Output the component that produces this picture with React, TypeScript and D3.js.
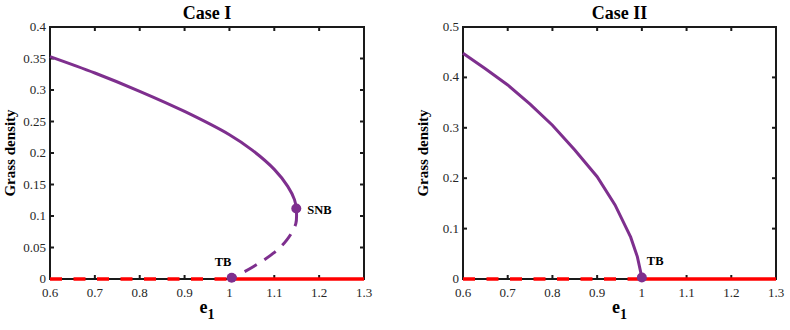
import React from 'react';
import * as d3 from 'd3';

// Case I: upper (stable) branch and lower (unstable, dashed) branch
const caseIUpperE = [0.6, 0.7, 0.8, 0.9, 1.0, 1.05, 1.1, 1.13, 1.145, 1.149];
const caseIUpperG = [0.353, 0.327, 0.298, 0.266, 0.229, 0.205, 0.174, 0.147, 0.126, 0.112];
const caseILowerE = [1.149, 1.148, 1.128, 1.098, 1.053, 1.005];
const caseILowerG = [0.112, 0.088, 0.062, 0.041, 0.0195, 0.001];
const caseIBif = [
  { label: 'SNB', e: 1.149, g: 0.112 },
  { label: 'TB', e: 1.005, g: 0.002 },
];

// Case II: single branch ending at the transcritical point
const caseIIE = [0.6, 0.65, 0.7, 0.75, 0.8, 0.85, 0.9, 0.94, 0.975, 0.99, 1.0];
const caseIIG = [0.448, 0.417, 0.385, 0.347, 0.305, 0.256, 0.203, 0.147, 0.083, 0.044, 0.003];
const caseIIBif = [{ label: 'TB', e: 1.0, g: 0.003 }];

const xTicks = [0.6, 0.7, 0.8, 0.9, 1, 1.1, 1.2, 1.3];
const yTicksI = [0, 0.05, 0.1, 0.15, 0.2, 0.25, 0.3, 0.35, 0.4];
const yTicksII = [0, 0.1, 0.2, 0.3, 0.4, 0.5];

const purple = '#7E2F8E';
const red = '#FF0000';
const axisColor = '#1a1a1a';
const font = "'Liberation Serif', 'Times New Roman', serif";

type Pt = [number, number];
type Bif = { label: string; e: number; g: number };

const zip = (a: number[], b: number[]): Pt[] => a.map((v, i) => [v, b[i]]);

const Panel = ({
  left, right, title, yMax, yTicks, solid, dashed, tbE, bifs, labelPos, smoothCurve,
}: {
  left: number; right: number; title: string; yMax: number; yTicks: number[];
  solid: Pt[]; dashed: Pt[] | null; tbE: number;
  bifs: Bif[]; labelPos: Record<string, [number, number]>; smoothCurve: boolean;
}) => {
  const top = 27;
  const bottom = 279;
  const x = d3.scaleLinear().domain([0.6, 1.3]).range([left, right]);
  const y = d3.scaleLinear().domain([0, yMax]).range([bottom, top]);
  const line = d3.line<Pt>().x((d) => x(d[0])).y((d) => y(d[1]));
  const smooth = d3.line<Pt>().x((d) => x(d[0])).y((d) => y(d[1])).curve(d3.curveCatmullRom.alpha(0.5));
  const branch = smoothCurve ? smooth : line;
  const tick = 4;
  const fmt = d3.format('~g');

  return (
    <g style={{ fontFamily: font }}>
      <text x={(left + right) / 2} y={19} textAnchor="middle" fontSize={18} fontWeight="bold" fill="#000" style={{ fontFamily: font }}>
        {title}
      </text>
      {/* box */}
      <rect x={left} y={top} width={right - left} height={bottom - top} fill="none" stroke={axisColor} strokeWidth={2} />
      {xTicks.map((t) => (
        <g key={'x' + t}>
          <line x1={x(t)} x2={x(t)} y1={bottom} y2={bottom - tick} stroke={axisColor} strokeWidth={2} />
          <line x1={x(t)} x2={x(t)} y1={top} y2={top + tick} stroke={axisColor} strokeWidth={2} />
          <text x={x(t)} y={bottom + 18} textAnchor="middle" fontSize={13} fill="#262626" style={{ fontFamily: font }}>
            {fmt(t)}
          </text>
        </g>
      ))}
      {yTicks.map((t) => (
        <g key={'y' + t}>
          <line x1={left} x2={left + tick} y1={y(t)} y2={y(t)} stroke={axisColor} strokeWidth={2} />
          <line x1={right} x2={right - tick} y1={y(t)} y2={y(t)} stroke={axisColor} strokeWidth={2} />
          <text x={left - 4} y={y(t) + 4} textAnchor="end" fontSize={13} fill="#262626" style={{ fontFamily: font }}>
            {fmt(t)}
          </text>
        </g>
      ))}
      <text
        transform={`translate(${left - 35},${(top + bottom) / 2}) rotate(-90)`}
        textAnchor="middle" fontSize={15} fontWeight="bold" fill="#000" style={{ fontFamily: font }}
      >
        Grass density
      </text>
      <text x={(left + right) / 2} y={313} textAnchor="middle" fontSize={18} fontWeight="bold" fill="#000" style={{ fontFamily: font }}>
        e<tspan fontSize={14} dy={6}>1</tspan>
      </text>

      {/* grass-free equilibrium: unstable (dashed) then stable (solid) */}
      <path d={line([[0.6, 0], [tbE, 0]])!} stroke={red} strokeWidth={3.5} strokeDasharray="12,11.5" fill="none" />
      <path d={line([[tbE, 0], [1.3, 0]])!} stroke={red} strokeWidth={3.5} fill="none" />

      <path d={branch(solid)!} stroke={purple} strokeWidth={3} fill="none" />
      {dashed && (
        <path d={smooth(dashed)!} stroke={purple} strokeWidth={3} strokeDasharray="14,9" strokeDashoffset={-4} fill="none" />
      )}
      {bifs.map((b) => (
        <g key={b.label}>
          <circle cx={x(b.e)} cy={y(b.g)} r={5} fill={purple} />
          <text
            x={x(b.e) + labelPos[b.label][0]} y={y(b.g) + labelPos[b.label][1]}
            fontSize={12.5} fontWeight="bold" fill="#000" style={{ fontFamily: font }}
          >
            {b.label}
          </text>
        </g>
      ))}
    </g>
  );
};

const App = () => (
  <svg width={790} height={330} style={{ position: 'absolute', left: 0, top: 0, background: '#fff' }}>
    <Panel
      left={50} right={364} title="Case I" yMax={0.4} yTicks={yTicksI}
      solid={zip(caseIUpperE, caseIUpperG)} dashed={zip(caseILowerE, caseILowerG)}
      tbE={1.005} bifs={caseIBif} labelPos={{ SNB: [11, 6], TB: [-17, -12] }} smoothCurve
    />
    <Panel
      left={463} right={776} title="Case II" yMax={0.5} yTicks={yTicksII}
      solid={zip(caseIIE, caseIIG)} dashed={null}
      tbE={1.0} bifs={caseIIBif} labelPos={{ TB: [5, -12] }} smoothCurve={false}
    />
  </svg>
);

export default App;
